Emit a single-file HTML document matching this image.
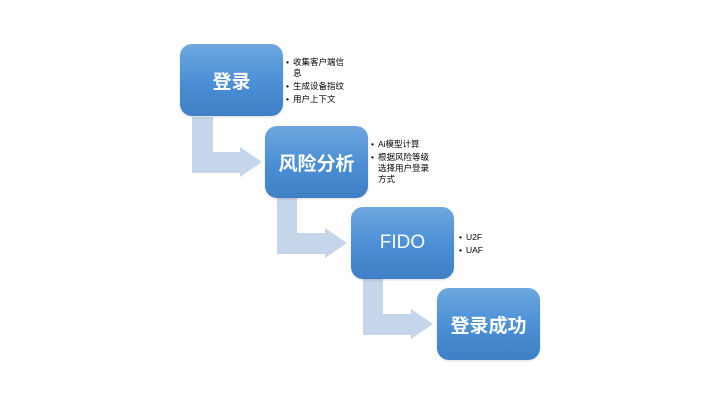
<!DOCTYPE html>
<html><head><meta charset="utf-8"><style>
body{margin:0;width:720px;height:405px;background:#fff;position:relative;overflow:hidden;font-family:"Liberation Sans","Noto Sans CJK SC",sans-serif}
.b{position:absolute;width:103px;height:72px;border-radius:12px;background:linear-gradient(#6da7dd,#4a8ed5 55%,#3f80c6);color:#fff;display:flex;align-items:center;justify-content:center;font-size:19px;box-shadow:0 1px 2px rgba(0,0,0,.15)}
.zh{font-weight:bold}
ul{position:absolute;margin:0;padding:0 0 0 7px;font-size:8.5px;line-height:11px;color:#000;list-style:none}
li{position:relative;margin-bottom:2px}
li:before{content:"•";position:absolute;left:-7px}
svg{position:absolute;left:0;top:0}
</style></head><body>
<svg width="720" height="405">
<g fill="#c5d5ea">
<polygon points="192,117 213,117 213,152 240,152 240,147 262,162 240,177 240,173 192,173"/>
<polygon points="277,197 297,197 297,233 325,233 325,228 347,243 325,258 325,254 277,254"/>
<polygon points="363,278 383,278 383,314 411,314 411,309 433,324 411,339 411,335 363,335"/>
</g>
</svg>
<div class="b zh" style="left:180px;top:44px">登录</div>
<div class="b zh" style="left:265px;top:126px">风险分析</div>
<div class="b" style="left:351px;top:207px">FIDO</div>
<div class="b zh" style="left:437px;top:288px">登录成功</div>
<ul style="left:286px;top:57px;width:54px"><li>收集客户端信息</li><li>生成设备指纹</li><li>用户上下文</li></ul>
<ul style="left:371px;top:139px;width:54px"><li>Ai模型计算</li><li>根据风险等级选择用户登录方式</li></ul>
<ul style="left:459px;top:232px;width:40px"><li>U2F</li><li>UAF</li></ul>
</body></html>
